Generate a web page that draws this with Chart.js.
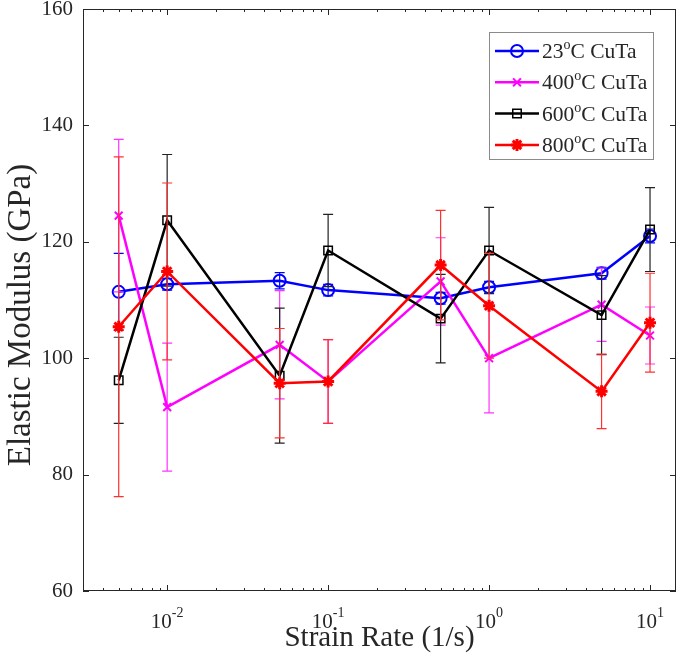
<!DOCTYPE html>
<html>
<head>
<meta charset="utf-8">
<script src="https://cdn.jsdelivr.net/npm/chart.js@4"></script>
<style>
  body { margin: 0; background: #fff; }
  canvas { display: block; }
</style>
</head>
<body>
<canvas id="chart" width="685" height="658"></canvas>
<script>
// strain rates (1/s)
const rates = [0.005, 0.01, 0.05, 0.1, 0.5, 1, 5, 10];

// elastic modulus (GPa) and error bar half-widths
const mod23 = [111.4, 112.7, 113.3, 111.7, 110.3, 112.2, 114.6, 121.0];
const err23 = [6.6, 1.0, 1.4, 1.0, 1.0, 1.0, 1.0, 1.2];
const mod400 = [124.5, 91.6, 102.3, 96.0, 113.2, 100.0, 109.2, 103.9];
const err400 = [13.1, 11.0, 9.3, 7.2, 7.5, 9.4, 6.3, 4.9];
const mod600 = [96.2, 123.7, 97.0, 118.5, 106.8, 118.5, 107.4, 122.1];
const err600 = [7.4, 11.3, 11.6, 6.2, 7.6, 7.4, 6.8, 7.2];
const mod800 = [105.4, 114.9, 95.7, 96.0, 116.0, 109.0, 94.3, 106.1];
const err800 = [29.2, 15.2, 9.4, 7.2, 9.4, 9.0, 6.4, 8.5];

const temps = ['23', '400', '600', '800'];
const yTicks = [60, 80, 100, 120, 140, 160];
const xMajor = [0.01, 0.1, 1, 10];
const xExp = ['-2', '-1', '0', '1'];

const serif = 'Liberation Serif';
const axisColor = '#262626';

const pts = (vals) => rates.map((r, i) => ({ x: r, y: vals[i] }));

// draws the error bars of each series just before the series itself
const errorBars = {
  id: 'errorBars',
  beforeDatasetDraw(chart, args) {
    const ds = chart.data.datasets[args.index];
    const xs = chart.scales.x, ys = chart.scales.y;
    const ctx = chart.ctx;
    ctx.save();
    ctx.strokeStyle = ds.errColor;
    ctx.lineWidth = 1.2;
    ds.data.forEach((p, j) => {
      const e = ds.errors[j];
      const x = xs.getPixelForValue(p.x);
      const top = ys.getPixelForValue(p.y + e);
      const bot = ys.getPixelForValue(p.y - e);
      ctx.beginPath();
      ctx.moveTo(x, top); ctx.lineTo(x, bot);
      ctx.moveTo(x - 5, top); ctx.lineTo(x + 5, top);
      ctx.moveTo(x - 5, bot); ctx.lineTo(x + 5, bot);
      ctx.stroke();
    });
    ctx.restore();
  }
};

// box, inward ticks, x tick labels with exponents, y title, legend
const frame = {
  id: 'frame',
  afterDraw(chart) {
    const ctx = chart.ctx;
    const a = chart.chartArea;
    const xs = chart.scales.x, ys = chart.scales.y;
    ctx.save();
    ctx.strokeStyle = axisColor;
    ctx.lineWidth = 1;
    ctx.strokeRect(a.left + 0.5, a.top + 0.5, a.right - a.left - 1, a.bottom - a.top - 1);

    ctx.beginPath();
    yTicks.forEach(v => {
      const y = Math.round(ys.getPixelForValue(v)) + 0.5;
      ctx.moveTo(a.left, y); ctx.lineTo(a.left + 6, y);
      ctx.moveTo(a.right, y); ctx.lineTo(a.right - 6, y);
    });
    for (let d = 0.001; d <= 10; d *= 10) {
      for (let k = 1; k <= 9; k++) {
        const v = d * k;
        if (v < xs.min || v > xs.max) continue;
        const x = Math.round(xs.getPixelForValue(v)) + 0.5;
        const len = k === 1 ? 6 : 3;
        ctx.moveTo(x, a.bottom); ctx.lineTo(x, a.bottom - len);
        ctx.moveTo(x, a.top); ctx.lineTo(x, a.top + len);
      }
    }
    ctx.stroke();

    // x tick labels: 10 with superscript exponent
    ctx.fillStyle = axisColor;
    ctx.textBaseline = 'alphabetic';
    ctx.textAlign = 'left';
    xMajor.forEach((v, i) => {
      const x = xs.getPixelForValue(v);
      ctx.font = '21px "' + serif + '"';
      const wb = ctx.measureText('10').width;
      ctx.font = '14px "' + serif + '"';
      const we = ctx.measureText(xExp[i]).width;
      const x0 = x - (wb + we) / 2;
      ctx.font = '21px "' + serif + '"';
      ctx.fillText('10', x0, a.bottom + 37);
      ctx.font = '14px "' + serif + '"';
      ctx.fillText(xExp[i], x0 + wb, a.bottom + 26);
    });

    // y axis title
    ctx.save();
    ctx.translate(30, 315);
    ctx.rotate(-Math.PI / 2);
    ctx.textAlign = 'center';
    ctx.font = '33px "' + serif + '"';
    ctx.fillText('Elastic Modulus (GPa)', 0, 0);
    ctx.restore();

    // legend
    const lx = 489, ly = 32, lw = 164, lh = 127;
    ctx.fillStyle = '#fff';
    ctx.fillRect(lx, ly, lw, lh);
    ctx.strokeStyle = '#8a8a8a';
    ctx.lineWidth = 1;
    ctx.strokeRect(lx + 0.5, ly + 0.5, lw, lh);
    chart.data.datasets.forEach((ds, i) => {
      const cy = ly + 19 + i * 31.3;
      ctx.strokeStyle = ds.borderColor;
      ctx.lineWidth = 2.5;
      ctx.beginPath();
      ctx.moveTo(lx + 6, cy); ctx.lineTo(lx + 50, cy);
      ctx.stroke();
      ctx.fillStyle = ds.pointBackgroundColor;
      ctx.lineWidth = ds.pointBorderWidth;
      Chart.helpers.drawPoint(ctx, {
        pointStyle: ds.pointStyle, radius: ds.pointRadius, rotation: 0,
        borderWidth: ds.pointBorderWidth
      }, lx + 28, cy);
      ctx.fillStyle = axisColor;
      ctx.font = '21.5px "' + serif + '"';
      let tx = lx + 53;
      ctx.fillText(temps[i], tx, cy + 7);
      tx += ctx.measureText(temps[i]).width;
      ctx.font = '14px "' + serif + '"';
      ctx.fillText('o', tx, cy - 2);
      tx += ctx.measureText('o').width;
      ctx.font = '21.5px "' + serif + '"';
      ctx.fillText('C CuTa', tx, cy + 7);
    });
    ctx.restore();
  }
};

const series = (label, vals, errs, color, errColor, style, radius, bw, order, fill) => ({
  label: label,
  data: pts(vals),
  errors: errs,
  errColor: errColor,
  borderColor: color,
  backgroundColor: fill,
  pointBorderColor: color,
  pointBackgroundColor: fill,
  pointStyle: style,
  pointRadius: radius,
  pointBorderWidth: bw,
  borderWidth: 2.5,
  tension: 0,
  order: order
});

new Chart(document.getElementById('chart'), {
  type: 'line',
  data: {
    datasets: [
      series('23°C CuTa', mod23, err23, '#0000ff', '#0000ff', 'circle', 6, 2, 4, 'rgba(0,0,0,0)'),
      series('400°C CuTa', mod400, err400, '#ff00ff', '#ff33ff', 'crossRot', 5.5, 2, 3, '#ff00ff'),
      series('600°C CuTa', mod600, err600, '#000000', '#222222', 'rect', 6, 1.5, 2, 'rgba(0,0,0,0)'),
      series('800°C CuTa', mod800, err800, '#ff0000', '#ff3030', 'star', 6, 3, 1, '#ff0000')
    ]
  },
  options: {
    responsive: false,
    animation: false,
    layout: { padding: { top: 8, right: 3, left: 0, bottom: 0 } },
    plugins: { legend: { display: false }, tooltip: { enabled: false } },
    scales: {
      x: {
        type: 'logarithmic',
        min: 0.003,
        max: 14.5,
        grid: { display: false },
        border: { display: false },
        ticks: { display: false },
        title: {
          display: true,
          text: 'Strain Rate (1/s)',
          color: axisColor,
          font: { family: serif, size: 29 },
          padding: { top: 0, bottom: 2 }
        },
        afterFit: (s) => {
          s.height = 67;
          s.paddingLeft = 0;
          s.paddingRight = 0;
        }
      },
      y: {
        min: 60,
        max: 160,
        grid: { display: false, drawTicks: false },
        border: { display: false },
        ticks: {
          stepSize: 20,
          padding: 10,
          color: axisColor,
          font: { family: serif, size: 21 }
        },
        afterFit: (s) => {
          s.width = 83;
          s.paddingTop = 0;
          s.paddingBottom = 0;
        }
      }
    }
  },
  plugins: [errorBars, frame]
});
</script>
</body>
</html>
